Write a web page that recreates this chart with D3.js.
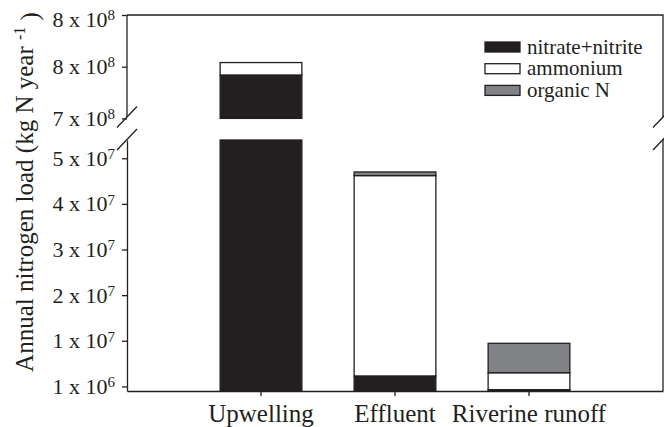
<!DOCTYPE html>
<html>
<head>
<meta charset="utf-8">
<script src="https://cdn.jsdelivr.net/npm/d3@7"></script>
<style>
  html, body { margin: 0; padding: 0; background: #fff; }
  svg { display: block; }
</style>
</head>
<body>
<svg id="chart" width="664" height="427" font-family="'Liberation Serif', 'Times New Roman', serif"></svg>
<script>
// Annual nitrogen loads by source (kg N per year)
const categories = ["Upwelling", "Effluent", "Riverine runoff"];
const nitrate  = [7.82e8, 3.3e6, 3.0e5];
const ammonium = [1.2e7, 4.39e7, 3.7e6];
const organic  = [0, 8.0e5, 6.45e6];

const seriesNames = ["nitrate+nitrite", "ammonium", "organic N"];
const seriesKeys = ["nitrate", "ammonium", "organic"];

// Broken value axis: an upper band and a lower band
const upperDomain = [7.4e8, 8.4e8];
const lowerDomain = [0, 5.5e7];
const upperTicks = [8.4e8, 7.9e8, 7.4e8];
const upperTickMantissa = ["8", "8", "7"];
const upperTickExponent = ["8", "8", "8"];
const lowerTicks = [1e6, 1.1e7, 2.1e7, 3.1e7, 4.1e7, 5.1e7];
const lowerTickMantissa = ["1", "1", "2", "3", "4", "5"];
const lowerTickExponent = ["6", "7", "7", "7", "7", "7"];

const ink = "#231f20";
const serif = "'Liberation Serif', 'Times New Roman', serif";
const colors = { nitrate: "#231f20", ammonium: "#ffffff", organic: "#818285" };

const svg = d3.select("#chart");
const plotLeft = 127, plotRight = 663, plotTop = 15, plotBottom = 391;
const upperBottom = 118.4, lowerTop = 140;

const x = d3.scaleBand().domain(categories).range([plotLeft, plotRight])
  .paddingInner(0.39).paddingOuter(0.695);
const yUp = d3.scaleLinear().domain(upperDomain).range([upperBottom, plotTop]);
const yLow = d3.scaleLinear().domain(lowerDomain).range([plotBottom, lowerTop]);

const rows = categories.map((c, i) => ({
  category: c, nitrate: nitrate[i], ammonium: ammonium[i], organic: organic[i]
}));
const stacked = d3.stack().keys(seriesKeys)(rows);

// Bars, split across the two bands
const bars = svg.append("g");
stacked.forEach(layer => {
  layer.forEach((seg, i) => {
    const v0 = seg[0], v1 = seg[1];
    if (v1 <= v0) return;
    const cx = x(categories[i]);
    // lower band
    if (v0 < lowerDomain[1]) {
      const yb = yLow(Math.max(v0, lowerDomain[0]));
      const yt = yLow(Math.min(v1, lowerDomain[1]));
      bars.append("rect")
        .attr("x", cx).attr("width", x.bandwidth())
        .attr("y", yt).attr("height", yb - yt)
        .attr("fill", colors[layer.key])
        .attr("stroke", ink).attr("stroke-width", 1.3);
    }
    // upper band
    if (v1 > upperDomain[0]) {
      const yb = yUp(Math.max(v0, upperDomain[0]));
      const yt = yUp(Math.min(v1, upperDomain[1]));
      bars.append("rect")
        .attr("x", cx).attr("width", x.bandwidth())
        .attr("y", yt).attr("height", yb - yt)
        .attr("fill", colors[layer.key])
        .attr("stroke", ink).attr("stroke-width", 1.3);
    }
  });
});

// Value axes with superscript exponents
function labelTicks(g, mantissa, exponent, shiftFirst) {
  g.attr("font-family", serif);
  g.selectAll(".tick text").each(function(d, i) {
    const t = d3.select(this);
    t.text(null)
      .attr("font-size", 22)
      .attr("dy", shiftFirst && i === 0 ? "0.52em" : "0.32em")
      .attr("fill", ink);
    t.append("tspan").text(mantissa[i] + " x 10");
    t.append("tspan").attr("font-size", 15).attr("dy", "-0.45em").text(exponent[i]);
  });
}

const gUp = svg.append("g").attr("transform", `translate(${plotLeft},0)`)
  .call(d3.axisLeft(yUp).tickValues(upperTicks).tickSize(5).tickSizeOuter(0).tickPadding(7));
labelTicks(gUp, upperTickMantissa, upperTickExponent, true);
gUp.select(".domain").attr("d", `M0,${plotTop}V117`);

const gLow = svg.append("g").attr("transform", `translate(${plotLeft},0)`)
  .call(d3.axisLeft(yLow).tickValues(lowerTicks).tickSize(5).tickSizeOuter(0).tickPadding(7));
labelTicks(gLow, lowerTickMantissa, lowerTickExponent, false);

[gUp, gLow].forEach(g => {
  g.selectAll(".domain, .tick line").attr("stroke", ink).attr("stroke-width", 1.3);
});

// Category axis
const gx = svg.append("g").attr("transform", `translate(0,${plotBottom})`)
  .call(d3.axisBottom(x).tickSize(5).tickSizeOuter(0).tickPadding(8));
gx.attr("font-family", serif);
gx.selectAll(".domain, .tick line").attr("stroke", ink).attr("stroke-width", 1.3);
gx.selectAll(".tick text").attr("font-size", 25).attr("fill", ink);

// Frame: top and right edges
const frame = svg.append("g").attr("stroke", ink).attr("stroke-width", 1.3).attr("fill", "none");
frame.append("path").attr("d", `M${plotLeft},${plotTop}H${plotRight}V117`);
frame.append("path").attr("d", `M${plotRight},${lowerTop}V${plotBottom}`);

// Break marks on both sides
[plotLeft, plotRight].forEach(px => {
  [117, 139.5].forEach(py => {
    frame.append("line")
      .attr("x1", px - 10).attr("y1", py + 10.5)
      .attr("x2", px + 10).attr("y2", py - 10.5);
  });
});

// Legend
const legend = svg.append("g");
seriesKeys.forEach((k, i) => {
  const cy = 47 + i * 21.7;
  legend.append("rect")
    .attr("x", 485).attr("y", cy - 5).attr("width", 35).attr("height", 10)
    .attr("fill", colors[k]).attr("stroke", ink).attr("stroke-width", 1.3);
  legend.append("text")
    .attr("x", 527).attr("y", cy).attr("dy", "0.32em")
    .attr("fill", ink)
    .attr("font-size", 21).text(seriesNames[i]);
});

// Y axis title
const title = svg.append("text")
  .attr("transform", "translate(33,192) rotate(-90)")
  .attr("text-anchor", "middle")
  .attr("fill", ink)
  .attr("font-size", 25);
title.append("tspan").text("Annual nitrogen load (kg N year ");
title.append("tspan").attr("font-size", 16).attr("dy", "-0.5em").text("-1");
title.append("tspan").attr("dy", "0.5em").text(" )");
</script>
</body>
</html>
